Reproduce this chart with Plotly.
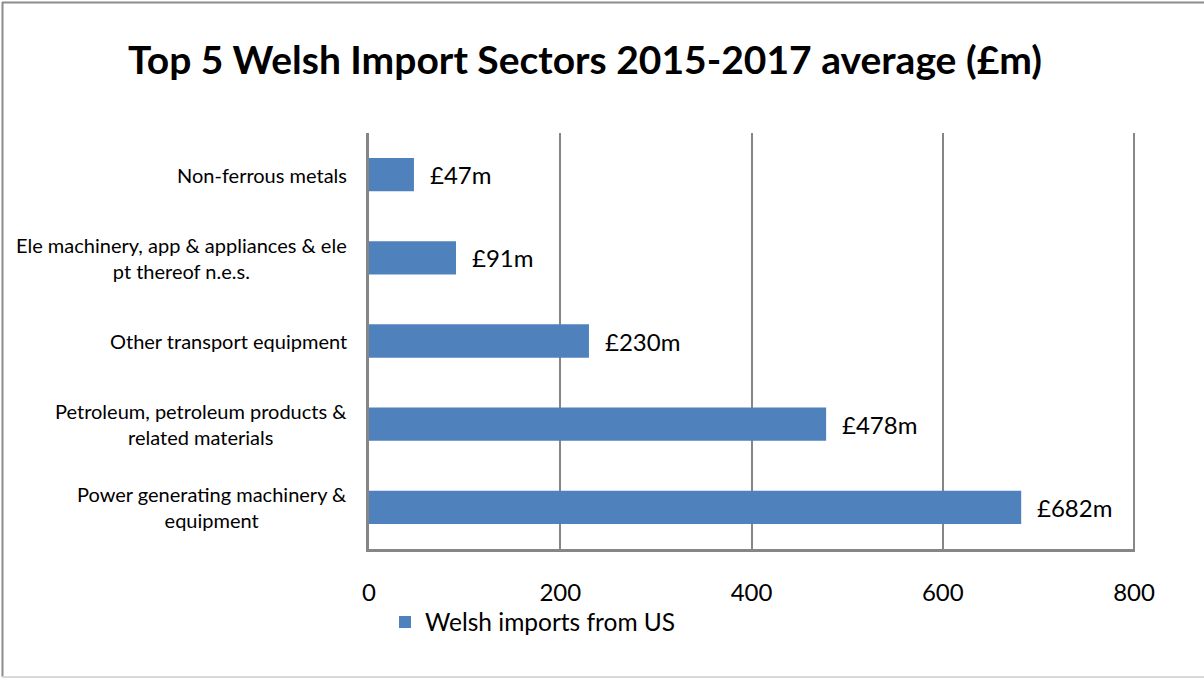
import plotly.graph_objects as go

categories = [
    "Non-ferrous metals",
    "Ele machinery, app & appliances & ele<br>pt thereof n.e.s.",
    "Other transport equipment",
    "Petroleum, petroleum products &<br>related materials",
    "Power generating machinery &<br>equipment",
]
values = [47, 91, 230, 478, 682]
value_labels = ["£47m", "£91m", "£230m", "£478m", "£682m"]
series_name = "Welsh imports from US"
x_ticks = [0, 200, 400, 600, 800]

BAR = "#4F81BD"
GRID = "#868686"
FONT = "Lato"

# plot area in pixels
L, R, T, B = 369, 1135, 133, 549
W, H = 1204, 679
pw, ph = R - L, B - T

def px_x(x):
    return (x - L) / pw

def px_y(y):
    return (B - y) / ph

fig = go.Figure()
fig.add_trace(go.Bar(
    y=categories, x=values, orientation="h",
    marker=dict(color=BAR, line=dict(width=0)),
    name=series_name, showlegend=True,
))

annotations = []
for c in categories:
    annotations.append(dict(
        x=0, xref="paper", y=c, yref="y", text=c, showarrow=False,
        xanchor="right", yanchor="middle", align="center", xshift=-20,
        font=dict(family=FONT, size=20, color="black"),
    ))
for c, v, t in zip(categories, values, value_labels):
    annotations.append(dict(
        x=v, xref="x", y=c, yref="y", text=t, showarrow=False,
        xanchor="left", yanchor="middle", xshift=14,
        font=dict(family=FONT, size=24, color="black"),
    ))

shapes = [
    # gridline at the last tick (plotly clips gridlines at the range edge)
    dict(type="line", xref="x", yref="paper", x0=x_ticks[-1], x1=x_ticks[-1], y0=0, y1=1,
         line=dict(color=GRID, width=2), layer="below"),
    # outer chart border (left, top, bottom)
    dict(type="line", xref="paper", yref="paper", x0=px_x(2.5), x1=px_x(2.5), y0=px_y(2), y1=px_y(677),
         line=dict(color="#8c8c8c", width=2)),
    dict(type="line", xref="paper", yref="paper", x0=px_x(2), x1=px_x(1210), y0=px_y(2.5), y1=px_y(2.5),
         line=dict(color="#8c8c8c", width=2)),
    dict(type="line", xref="paper", yref="paper", x0=px_x(2), x1=px_x(1210), y0=px_y(677), y1=px_y(677),
         line=dict(color="#d9d9d9", width=2)),
]

fig.update_layout(
    width=W, height=H,
    margin=dict(l=L, r=W - R, t=T, b=H - B),
    paper_bgcolor="white", plot_bgcolor="white",
    bargap=0.6,
    title=dict(
        text="<b>Top 5 Welsh Import Sectors 2015-2017 average (£m)</b>",
        x=585 / W, xref="container", xanchor="center",
        y=1 - 60 / H, yref="container", yanchor="middle",
        font=dict(family=FONT, size=39, color="black"),
    ),
    xaxis=dict(
        range=[0, 801], tickvals=x_ticks, ticktext=[str(t) for t in x_ticks],
        showgrid=True, gridcolor=GRID, gridwidth=2,
        showline=True, linecolor=GRID, linewidth=3,
        zeroline=False, ticks="", ticklabelstandoff=20,
        tickfont=dict(family=FONT, size=24, color="black"),
    ),
    yaxis=dict(
        autorange="reversed", showticklabels=False, showgrid=False,
        showline=True, linecolor=GRID, linewidth=3, zeroline=False, ticks="",
    ),
    legend=dict(
        orientation="h", x=px_x(385), xanchor="left", y=px_y(622), yanchor="middle",
        font=dict(family=FONT, size=24.5, color="black"),
        bgcolor="rgba(0,0,0,0)",
    ),
    annotations=annotations,
    shapes=shapes,
)

fig.write_html(
    "out.html",
    config={"displayModeBar": False},
    post_script="document.body.style.margin='0';document.body.style.overflow='hidden';",
)
